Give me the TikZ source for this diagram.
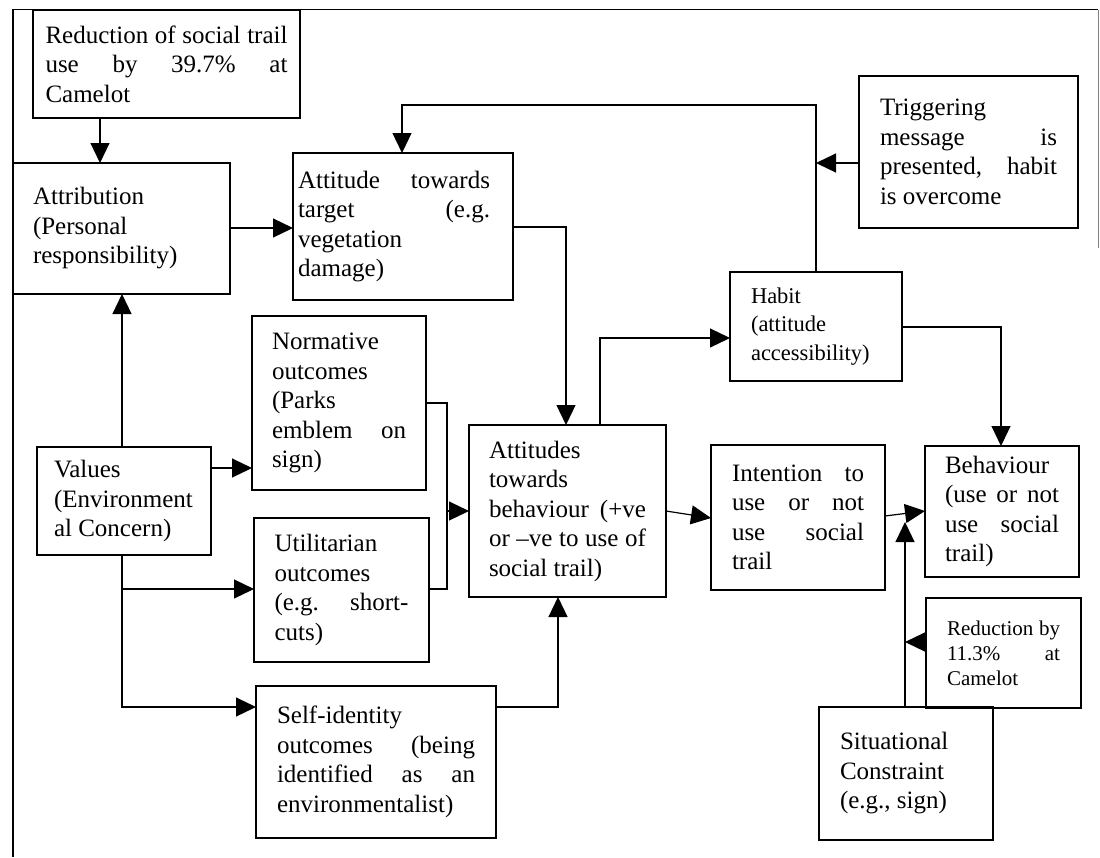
\documentclass[tikz,border=0pt]{standalone}
\usepackage{fontspec}
\setmainfont{Liberation Serif}
\usetikzlibrary{arrows.meta,calc}

% one justified line / one ragged line inside a text block
\newcommand\jline[1]{\hbox to\hsize{\spaceskip=.25em plus 1fil minus .1em\relax #1}}
\newcommand\lline[1]{\hbox to\hsize{#1\hfil}}
% text blocks in the regular and in the smaller sizes
\newcommand\txt[2]{\parbox{#1pt}{\fontsize{25}{29.5}\selectfont #2}}
\newcommand\txtsm[2]{\parbox{#1pt}{\fontsize{22.5}{28.5}\selectfont #2}}
\newcommand\txtxs[2]{\parbox{#1pt}{\fontsize{21}{25}\selectfont #2}}
% a framed box: name, left, top, right, bottom, contents
\newcommand\flow[6]{\node[flowbox, minimum width=#4pt-#2pt, minimum height=#5pt-#3pt] (#1) at (#2,#3) {#6};}

\tikzset{
  flowbox/.style={draw, line width=1.4pt, inner sep=0pt, outer sep=0pt, anchor=north west},
  link/.style={line width=1.2pt},
  arr/.style={link, -{Triangle[length=20pt,width=19pt]}},
}

\begin{document}
\begin{tikzpicture}[x=1pt, y=-1pt]
\useasboundingbox (0,0) rectangle (1100,857);

% outer frame
\coordinate (fbl) at (13,857);
\coordinate (ftl) at (13,9.5);
\coordinate (ftr) at (1098,9.5);
\coordinate (fbr) at (1098,248);
\draw[link] (fbl) -- (ftl) -- (ftr);
\draw[gray, line width=0.8pt] (ftr) -- (fbr);

% boxes
\flow{red1}{33}{10}{300}{118}{\txt{242}{\jline{Reduction of social trail}\jline{use by 39.7\% at}\lline{Camelot}}}
\flow{attr}{13}{163}{230}{294}{\txt{177}{\lline{Attribution}\lline{(Personal}\lline{responsibility)}}}
\flow{tgt}{293}{153}{513}{300}{\txt{192}{\jline{Attitude towards}\jline{target (e.g.}\lline{vegetation}\lline{damage)}}\kern18pt}
\flow{trig}{859}{76}{1078}{228}{\txt{177}{\lline{Triggering}\jline{message is}\jline{presented, habit}\lline{is overcome}}}
\flow{habit}{730}{272}{902}{381}{\txtsm{130}{\lline{Habit}\lline{(attitude}\lline{accessibility)}}}
\flow{norm}{252}{316}{426}{490}{\txt{134}{\lline{Normative}\lline{outcomes}\lline{(Parks}\jline{emblem on}\lline{sign)}}}
\flow{vals}{37}{447}{211}{555}{\txt{140}{\lline{Values}\lline{(Environment}\lline{al Concern)}}}
\flow{util}{254}{518}{429}{662}{\txt{134}{\lline{Utilitarian}\lline{outcomes}\jline{(e.g. short-}\lline{cuts)}}}
\flow{atts}{469}{425}{666}{597}{\txt{157}{\lline{Attitudes}\lline{towards}\jline{behaviour (+ve}\jline{or –ve to use of}\lline{social trail)}}}
\flow{int}{711}{445}{885}{590}{\txt{132}{\jline{Intention to}\jline{use or not}\jline{use social}\lline{trail}}}
\flow{beh}{925}{446}{1079}{577}{\txt{114}{\lline{Behaviour}\jline{(use or not}\jline{use social}\lline{trail)}}}
\flow{self}{256}{686}{496}{838}{\txt{198}{\lline{Self-identity}\jline{outcomes (being}\jline{identified as an}\lline{environmentalist)}}}
\flow{red2}{926}{598}{1081}{708}{\txtxs{113}{\jline{Reduction by}\jline{11.3\% at}\lline{Camelot}}}
\flow{sit}{819}{707}{993}{840}{\txt{132}{\lline{Situational}\lline{Constraint}\lline{(e.g., sign)}}}

% routing points of the connectors
\coordinate (cA) at (100,0);
\coordinate (cB) at (0,228);
\coordinate (cC) at (122,0);
\coordinate (cD) at (0,468);
\coordinate (cE) at (0,589);
\coordinate (cF) at (0,707);
\coordinate (cG) at (0,403);
\coordinate (cH) at (447,589);
\coordinate (cI) at (447,511);
\coordinate (cJ) at (0,227);
\coordinate (cK) at (566,0);
\coordinate (cL) at (600,0);
\coordinate (cM) at (0,338);
\coordinate (cN) at (816,0);
\coordinate (cO) at (402,105);
\coordinate (cP) at (816,163);
\coordinate (cQ) at (0,327);
\coordinate (cR) at (1001,0);
\coordinate (cS) at (0,511);
\coordinate (cT) at (0,518);
\coordinate (cU) at (0,516);
\coordinate (cW) at (905,522);
\coordinate (cX) at (905,642);
\coordinate (cY) at (558,0);

% connectors
\draw[arr] (red1.south -| cA) -- (attr.north -| cA);
\draw[arr] (attr.east |- cB) -- (tgt.west |- cB);
\draw[arr] (vals.north -| cC) -- (attr.south -| cC);
\draw[arr] (vals.east |- cD) -- (norm.west |- cD);
\draw[arr] (vals.south -| cC) |- (util.west |- cE);
\draw[arr] (vals.south -| cC) |- (self.west |- cF);
\draw[link] (norm.east |- cG) -| (cH) -- (util.east |- cH);
\draw[arr] (cI) -- (atts.west |- cI);
\draw[arr] (tgt.east |- cJ) -| (atts.north -| cK);
\draw[arr] (atts.north -| cL) |- (habit.west |- cM);
\draw[arr] (habit.north -| cN) |- (cO) -- (tgt.north -| cO);
\draw[arr] (trig.west |- cP) -- (cP);
\draw[arr] (habit.east |- cQ) -| (beh.north -| cR);
\draw[arr] (atts.east |- cS) -- (int.west |- cT);
\draw[arr] (int.east |- cU) -- (beh.west |- cS);
\draw[arr] (sit.north -| cW) -- (cW);
\draw[arr] (red2.west |- cX) -- (cX);
\draw[arr] (self.east |- cF) -| (atts.south -| cY);
\end{tikzpicture}
\end{document}
